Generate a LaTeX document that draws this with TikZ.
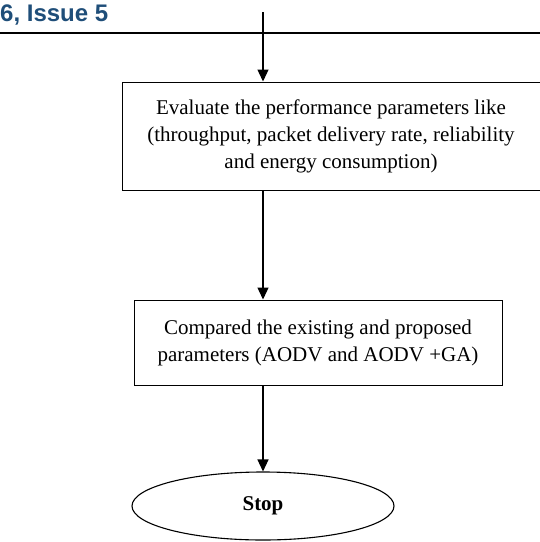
\documentclass[tikz,border=0pt]{standalone}
\usepackage{fontspec}
\setmainfont{Liberation Serif}
\newfontfamily\headfont{Liberation Sans}
\usetikzlibrary{arrows.meta, positioning, shapes.geometric}
\definecolor{issueblue}{HTML}{1F4E79}

\begin{document}
\begin{tikzpicture}[x=1pt, y=-1pt,
  block/.style={rectangle, draw, line width=1pt, inner sep=0pt, font=\fontsize{21}{27}\selectfont, align=center},
  arrow/.style={-{Triangle[width=11pt, length=12pt]}, line width=1.3pt}]
\useasboundingbox (0,0) rectangle (540,542);

% header of the journal page
\node[anchor=base west, inner sep=0pt, font=\headfont\bfseries\fontsize{24}{24}\selectfont, text=issueblue] (issue) at (0,21) {6, Issue 5};
\draw[line width=2.5pt] (0,33) -- (540,33);

\coordinate (top) at (263,12);
\node[block, minimum width=418pt, minimum height=108pt] (eval) at (331,136) {Evaluate the performance parameters like\\(throughput, packet delivery rate, reliability\\and energy consumption)};
\node[block, minimum width=368pt, minimum height=85pt] (comp) at (318,342.5) {Compared the existing and proposed\\parameters (AODV and AODV +GA)};
\node[ellipse, draw, line width=1.1pt, minimum width=262pt, minimum height=68pt, font=\bfseries\fontsize{21}{24}\selectfont] (stop) at (263,506) {Stop};

\draw[arrow] (top) -- (top |- eval.north);
\draw[arrow] (top |- eval.south) -- (top |- comp.north);
\draw[arrow] (top |- comp.south) -- (top |- stop.north);
\end{tikzpicture}
\end{document}
